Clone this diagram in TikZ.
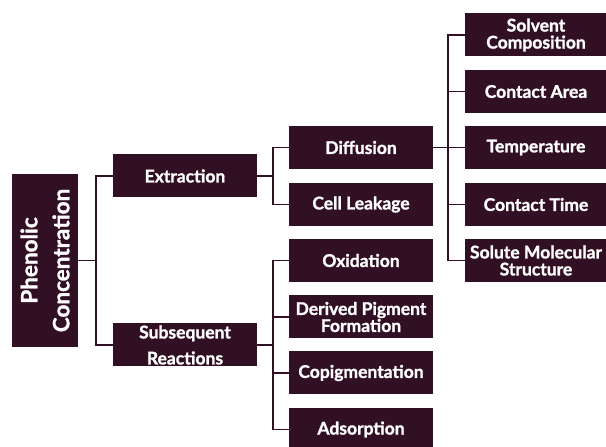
\documentclass[tikz,border=0pt]{standalone}
\usepackage{fontspec}
\setmainfont{Lato}[BoldFeatures={FakeBold=1.3}]
\definecolor{plum}{RGB}{50,16,35}
\begin{document}
\begin{tikzpicture}
      [x=1pt,y=1pt,
      box/.style={fill=plum,text=white,font=\bfseries\fontsize{17.5}{17}\selectfont,
        minimum width=144pt,minimum height=43pt,inner sep=0pt,align=center},
      leaf/.style={box,minimum width=142pt},
      link/.style={draw=plum,line width=1.6pt}]
      \useasboundingbox (0,0) rectangle (606,447);
      \node[box,minimum width=173pt,minimum height=66pt,rotate=90,
        font=\bfseries\fontsize{22.5}{32}\selectfont] (root) at (45,186.5)
        {Phenolic\\Concentration};
      % second level
      \node[box] (extr) at (185,271) {Extraction};
      \node[box,font=\bfseries\fontsize{17.5}{26}\selectfont] (subs) at (185,102)
        {Subsequent\\Reactions};
      % third level
      \node[box] (diff) at (361,299.5) {Diffusion};
      \node[box] (cell) at (361,242.5) {Cell Leakage};
      \node[box] (oxid) at (361,186.5) {Oxidation};
      \node[box] (pigm) at (361,130) {Derived Pigment\\Formation};
      \node[box] (copi) at (361,74) {Copigmentation};
      \node[box] (adso) at (361,17.5) {Adsorption};
      % fourth level
      \node[leaf] (solv) at (536,412) {Solvent\\Composition};
      \node[leaf] (area) at (536,355.5) {Contact Area};
      \node[leaf] (temp) at (536,299.5) {Temperature};
      \node[leaf] (time) at (536,242.5) {Contact Time};
      \node[leaf] (solu) at (536,186.5) {Solute Molecular\\Structure};
      % connectors
      \draw[link] (root.south) -- ++(17,0);
      \draw[link] (extr.west) -- ++(-17,0) |- (subs.west);
      \draw[link] (extr.east) -- ++(16,0);
      \draw[link] (diff.west) -- ++(-16,0) |- (cell.west);
      \draw[link] (subs.east) -- ++(16,0);
      \draw[link] (oxid.west) -- ++(-16,0) |- (adso.west);
      \draw[link] (pigm.west) -- ++(-16,0);
      \draw[link] (copi.west) -- ++(-16,0);
      \draw[link] (diff.east) -- ++(16,0);
      \draw[link] (solv.west) -- ++(-17,0) |- (solu.west);
      \foreach \n in {area,temp,time}
        \draw[link] (\n.west) -- ++(-17,0);
\end{tikzpicture}
\end{document}
